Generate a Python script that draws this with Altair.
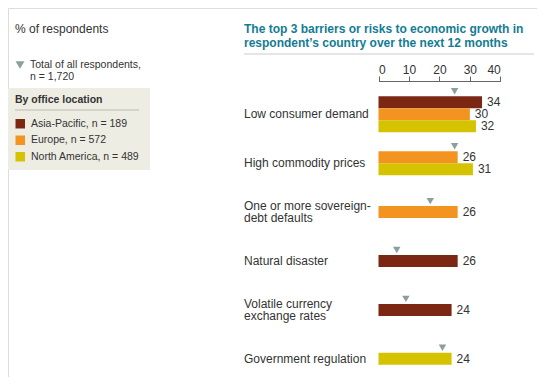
import altair as alt
import pandas as pd

# ---------------- data ----------------
categories = [
    "Low consumer demand",
    "High commodity prices",
    "One or more sovereign-\ndebt defaults",
    "Natural disaster",
    "Volatile currency\nexchange rates",
    "Government regulation",
]
series_names = ["Asia-Pacific", "Europe", "North America"]
series_n = [189, 572, 489]
asia_pacific = [34, None, None, 26, 24, None]
europe = [30, 26, 26, None, None, None]
north_america = [32, 31, None, None, None, 24]
total_all = [25, 25, 17, 6, 9, 21]
total_label = "Total of all respondents,\nn = 1,720"
x_ticks = [0, 10, 20, 30, 40]

title_lines = ["The top 3 barriers or risks to economic growth in",
               "respondent\u2019s country over the next 12 months"]

colors = ["#7B2713", "#F39320", "#D5C200"]
TEXT = "#333333"
FONT = "Liberation Sans"
BAR = 0.245        # bar thickness in row units
ROW_PX = 48.9      # pixels per row unit
LABEL_LH = 12.6    # category label line height

series_labels = [f"{s}, n = {n}" for s, n in zip(series_names, series_n)]
series_vals = [asia_pacific, europe, north_america]

rows = []
tri_rows = []
for i, cat in enumerate(categories):
    present = [(series_labels[j], series_vals[j][i]) for j in range(3) if series_vals[j][i] is not None]
    n = len(present)
    for k, (lab, v) in enumerate(present):
        c = i + (k - (n - 1) / 2) * BAR
        rows.append({"cat": cat, "series": lab, "value": v, "zero": 0,
                     "yc": c, "y1": c - BAR / 2, "y2": c + BAR / 2})
    nlines = cat.count("\n") + 1
    tri_rows.append({"cat": cat, "total": total_all[i], "ytop": i - n * BAR / 2,
                     "ylab": i - (nlines - 1) / 2 * LABEL_LH / ROW_PX})

bars = pd.DataFrame(rows)
tris = pd.DataFrame(tri_rows)

xscale = alt.Scale(domain=[0, 40], range=[370.5, 492.3])
yscale = alt.Scale(domain=[-0.5, 5.5], range=[81.85, 81.85 + 6 * ROW_PX])
xaxis = alt.Axis(orient="top", offset=-73, values=x_ticks, tickSize=5, labelPadding=2.5,
                 labelBaseline="alphabetic",
                 domainColor="#666666", tickColor="#666666", labelColor=TEXT,
                 labelFontSize=12, labelFont=FONT, grid=False, title=None,
                 labelFontWeight="normal", domainWidth=1, tickWidth=1)


def X(field):
    return alt.X(field, type="quantitative", scale=xscale, axis=xaxis)


def Y(field):
    return alt.Y(field, type="quantitative", scale=yscale, axis=None)


one = alt.Data(values=[{}])

# background box for legend
box = alt.Chart(one).mark_rect(color="#EEEDE3").encode(
    x=alt.value(0), x2=alt.value(142), y=alt.value(80), y2=alt.value(162))

legend_rule = alt.Chart(one).mark_rule(color="#CBCBC2", strokeWidth=1.5).encode(
    x=alt.value(7), x2=alt.value(131), y=alt.value(102))

title_rule = alt.Chart(one).mark_rule(color="#CCCCCC", strokeWidth=1).encode(
    x=alt.value(236), x2=alt.value(526), y=alt.value(46))

bar_layer = alt.Chart(bars).mark_rect().encode(
    x=X("zero"), x2="value", y=Y("y1"), y2="y2",
    color=alt.Color("series:N",
                    scale=alt.Scale(domain=series_labels, range=colors),
                    legend=alt.Legend(orient="none", legendX=7, legendY=87, title="By office location",
                                      titleFont=FONT, titleFontSize=10.5, titleFontWeight="bold",
                                      titleColor=TEXT, titlePadding=13, labelFont=FONT,
                                      labelFontSize=10.5, labelColor=TEXT, symbolType="square",
                                      symbolSize=90, symbolStrokeWidth=0, symbolOpacity=1,
                                      rowPadding=5.5, labelOffset=5.5, padding=0,
                                      labelLimit=300)),
)

value_layer = alt.Chart(bars).mark_text(align="left", baseline="middle", dx=5, fontSize=12,
                                        font=FONT, color=TEXT).encode(
    x=X("value"), y=Y("yc"), text="value:Q")

tri_layer = alt.Chart(tris).mark_point(shape="triangle-down", filled=True, size=55,
                                       color="#8C9E9E", opacity=1, yOffset=-5).encode(
    x=X("total"), y=Y("ytop"))

cat_layer = alt.Chart(tris).mark_text(align="left", baseline="middle", fontSize=12, font=FONT,
                                      color=TEXT, lineBreak="\n", lineHeight=LABEL_LH).encode(
    x=alt.value(236), y=Y("ylab"), text="cat:N")

title_text = alt.Chart(one).mark_text(align="left", baseline="middle", fontSize=12, font=FONT,
                                      fontWeight="bold", color="#137C94", lineHeight=13.7,
                                      text=title_lines).encode(x=alt.value(236), y=alt.value(21))

pct_text = alt.Chart(one).mark_text(align="left", baseline="middle", fontSize=12, font=FONT,
                                    color=TEXT, text="% of respondents").encode(
    x=alt.value(7), y=alt.value(21))

legend_tri = alt.Chart(one).mark_point(shape="triangle-down", filled=True, size=80,
                                       color="#8C9E9E", opacity=1).encode(
    x=alt.value(12), y=alt.value(57))

legend_tri_text = alt.Chart(one).mark_text(align="left", baseline="middle", fontSize=10.5, font=FONT,
                                           color=TEXT, lineBreak="\n", lineHeight=12.3,
                                           text=total_label).encode(
    x=alt.value(22), y=alt.value(57))

chart = alt.layer(
    box, legend_rule, title_rule, bar_layer, value_layer, tri_layer, cat_layer,
    title_text, pct_text, legend_tri, legend_tri_text,
).properties(
    width=529, height=369, padding=0, autosize=alt.AutoSizeParams(type="none"),
).configure_view(stroke=None).configure(background="white")

chart.save("out.html", embed_options={"renderer": "svg", "actions": False})
